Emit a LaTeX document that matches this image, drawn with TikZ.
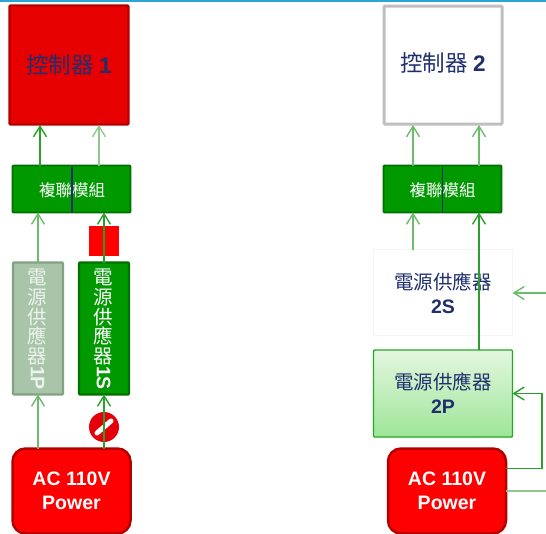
\documentclass[tikz,border=0pt]{standalone}
\usepackage{fontspec}
\setmainfont{Liberation Sans}
\newfontfamily\cjk{Noto Sans CJK TC}
\usetikzlibrary{arrows.meta}
\definecolor{navy}{HTML}{1F2F6E}
\definecolor{gfill}{HTML}{009900}
\definecolor{gedge}{HTML}{007000}
\definecolor{adark}{HTML}{2AA02A}
\definecolor{amid}{HTML}{6CBC6C}
\definecolor{alight}{HTML}{90C890}
\definecolor{acedge}{HTML}{B40000}
\tikzset{
  base/.style={inner sep=0pt,outer sep=0pt,align=center,anchor=north west},
  ctrlbox/.style={base,line width=3pt,rounded corners=1pt,minimum width=118pt,minimum height=118pt},
  muxbox/.style={base,draw=gedge,fill=gfill,line width=1.8pt,rounded corners=1pt,minimum width=118pt,minimum height=47pt},
  psv/.style={base,line width=2.2pt,rounded corners=1pt,minimum width=50pt,minimum height=132pt},
  psh/.style={base,minimum width=139pt,minimum height=86pt},
  acbox/.style={base,draw=acedge,fill=red,line width=2.5pt,rounded corners=13pt,minimum width=118pt,minimum height=85pt,text=white,font=\bfseries\fontsize{19.5}{24}\selectfont},
  flow/.style={-{Straight Barb[length=10.5pt,width=13pt,line width=1.4pt]},line width=1.8pt},
  plain/.style={line width=1.8pt},
  divider/.style={navy,line width=1.8pt},
  muxtext/.style={inner sep=0pt,text=white,font=\cjk\fontsize{16.5}{18}\selectfont},
  ctrltext/.style={inner sep=0pt,text=navy,font=\cjk\fontsize{22.5}{24}\selectfont},
  stack/.style={inner sep=0pt,align=center,font=\cjk\fontsize{19.5}{19.7}\selectfont},
  sidetag/.style={inner sep=0pt,rotate=-90,font=\bfseries\fontsize{19.5}{20}\selectfont},
  hortext/.style={inner sep=0pt,text=navy,align=center,font=\cjk\fontsize{19.5}{24}\selectfont}
}
\begin{document}
\begin{tikzpicture}[x=1pt,y=-1pt]
\useasboundingbox (0,0) rectangle (546,533);
\clip (0,0) rectangle (546,533);
\fill[white] (0,0) rectangle (546,533);
\fill[color={rgb,255:red,42;green,165;blue,213}] (0,0) rectangle (546,2);

% left column
\node[ctrlbox,line width=2.2pt,draw=acedge,fill={rgb,255:red,230;green,0;blue,0},minimum width=119pt,minimum height=119pt] (c1) at (9.5,5.5) {};
\node[ctrltext] (c1t) at (c1.center) {控制器 {\fontspec{Liberation Sans}\bfseries 1}};
\node[muxbox] (m1) at (12.5,165.5) {};
\node[psv,draw={rgb,255:red,133;green,160;blue,133},fill={rgb,255:red,169;green,197;blue,169}] (p1) at (13,262.5) {};
\node[psv,draw=gedge,fill=gfill] (s1) at (79,262.5) {};
\node[acbox] (a1) at (12.5,448.5) {AC 110V\\Power};
\node[base,fill=red,minimum width=30pt,minimum height=30pt] (sq) at (89,225.5) {};
\node[circle,fill={rgb,255:red,230;green,0;blue,10},inner sep=0pt,outer sep=0pt,minimum size=30pt] (no) at (104,427) {};
\draw[white,line width=5pt,line cap=round] ([shift={(-7,6)}]no.center) -- ([shift={(7,-6)}]no.center);

\node[muxtext] (m1t) at (72,190) {複聯模組};
\draw[divider] (m1.north -| 72,0) ++(0,1) coordinate (d1a) -- (d1a |- m1.south);
\node[stack,text={rgb,255:red,236;green,243;blue,236}] (p1t) at (37.5,317) {電\\源\\供\\應\\器};
\node[sidetag,text={rgb,255:red,236;green,243;blue,236}] (p1g) at (37.5,378) {1P};
\node[stack,text=white] (s1t) at (103.5,317) {電\\源\\供\\應\\器};
\node[sidetag,text=white] (s1g) at (103.5,378) {1S};

\coordinate (c1l) at (40,125);
\coordinate (c1r) at (99,125);
\draw[flow,adark] (c1l |- m1.north) -- (c1l);
\draw[flow,alight] (c1r |- m1.north) -- (c1r);
\draw[flow,amid] (p1.north) -- (p1.north |- m1.south);
\draw[flow,adark] (s1.north) -- (s1.north |- m1.south);
\draw[flow,amid] (p1.south |- a1.north) -- (p1.south);
\draw[flow,adark] (s1.south |- a1.north) -- (s1.south);

% right column
\node[ctrlbox,draw={rgb,255:red,191;green,191;blue,191},fill=white] (c2) at (384,6) {};
\node[ctrltext] (c2t) at (443,63) {控制器 {\fontspec{Liberation Sans}\bfseries 2}};
\node[muxbox] (m2) at (383.5,165.5) {};
\node[muxtext] (m2t) at (442.5,190) {複聯模組};
\draw[divider] (m2.north) ++(0,1) coordinate (d2a) -- (d2a |- m2.south);
\node[psh,draw={rgb,255:red,245;green,245;blue,245},fill=white,line width=.8pt] (s2) at (373.5,249.5) {};
\node[hortext] (s2t) at (443,293) {電源供應器\\{\fontspec{Liberation Sans}\bfseries 2S}};
\node[psh,draw={rgb,255:red,34;green,170;blue,34},line width=1.4pt,rounded corners=1pt,top color={rgb,255:red,228;green,247;blue,224},bottom color={rgb,255:red,158;green,229;blue,152},minimum height=87pt] (p2) at (373.5,350) {};
\node[hortext] (p2t) at (443,393.5) {電源供應器\\{\fontspec{Liberation Sans}\bfseries 2P}};
\node[acbox] (a2) at (388,448.5) {AC 110V\\Power};

\coordinate (c2l) at (413,125);
\coordinate (c2r) at (479,125);
\coordinate (e1) at (546,491);
\coordinate (e2) at (546,293);
\coordinate (b1) at (542,468.5);
\draw[flow,amid] (c2l |- m2.north) -- (c2l);
\draw[flow,amid] (c2r |- m2.north) -- (c2r);
\draw[flow,amid] (c2l |- s2.north) -- (c2l |- m2.south);
\draw[flow,adark] (c2r |- p2.north) -- (c2r |- m2.south);
\draw[flow,adark] (a2.east |- b1) -- (b1) -- (b1 |- p2.east) -- (p2.east);
\draw[plain,alight] (a2.east |- e1) -- (e1);
\draw[flow,amid] (e2) -- (s2.east |- e2);
\end{tikzpicture}
\end{document}
